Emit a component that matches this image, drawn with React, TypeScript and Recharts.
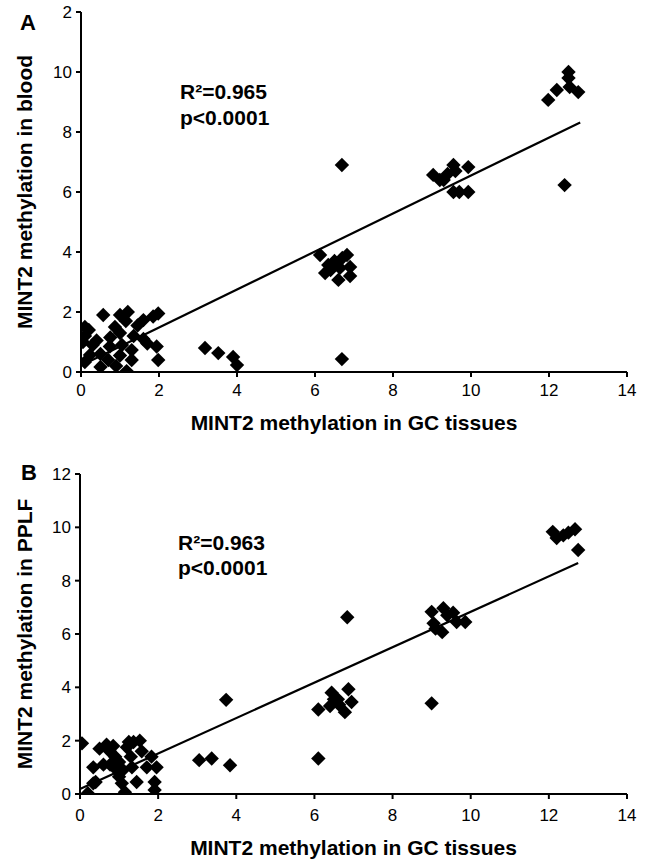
import React from 'react';
import { ScatterChart, Scatter, XAxis, YAxis, Label, ReferenceLine } from 'recharts';

// Panel A: GC tissue (x) vs blood (y)
const gcTissueA = [0.1, 0.2, 0.57, 1.0, 1.2, 1.6, 1.98, 1.85, 1.94, 1.98, 0.1, 0.5, 1.17, 1.3, 1.0, 1.6, 1.7, 0.1, 0.4, 0.75, 1.0, 1.35, 0.87, 0.74, 1.05, 1.3, 0.23, 0.7, 1.15, 0.5, 0.05, 0.3, 1.45, 0.9,
  3.18, 3.52, 3.9, 4.0,
  6.13, 6.34, 6.26, 6.6, 6.82, 6.9, 6.9, 6.64, 6.5, 6.7, 6.4, 6.69, 6.69,
  9.03, 9.2, 9.55, 9.4, 9.93, 9.6, 9.55, 9.7, 9.93, 9.3, 12.4,
  11.98, 12.2, 12.5, 12.5, 12.53, 12.75];
const bloodA = [1.5, 1.4, 1.9, 1.9, 2.0, 1.73, 1.95, 1.85, 0.85, 0.4, 0.33, 0.17, 0.03, 0.4, 0.55, 1.1, 0.95, 1.2, 1.05, 1.15, 1.3, 1.2, 1.5, 0.85, 0.9, 0.73, 0.57, 0.4, 1.7, 0.6, 1.0, 0.9, 1.55, 0.2,
  0.8, 0.63, 0.5, 0.23,
  3.9, 3.57, 3.3, 3.07, 3.9, 3.5, 3.2, 3.47, 3.7, 3.8, 3.4, 0.43, 6.9,
  6.57, 6.4, 6.9, 6.6, 6.83, 6.7, 6.0, 6.0, 6.0, 6.4, 6.23,
  9.07, 9.4, 10.0, 9.8, 9.5, 9.33];
const trendA = [{ x: 0, y: 0.22 }, { x: 12.8, y: 8.32 }];

// Panel B: GC tissue (x) vs PPLF (y)
const gcTissueB = [0.05, 0.2, 0.34, 0.4, 0.34, 0.5, 0.68, 0.76, 0.85, 0.6, 0.77, 0.9, 0.94, 1.0, 1.07, 1.15, 1.2, 1.25, 1.37, 1.33, 1.45, 1.53, 1.58, 1.71, 1.83, 1.96, 1.91, 1.91, 1.0, 1.1, 1.3,
  3.05, 3.37, 3.84, 3.74,
  6.1, 6.1, 6.44, 6.87, 6.4, 6.6, 6.78, 6.95, 6.63, 6.5, 9.0, 6.84,
  9.0, 9.3, 9.55, 9.64, 9.86, 9.05, 9.27, 9.1, 9.4,
  12.1, 12.37, 12.67, 12.2, 12.5, 12.75];
const pplfB = [1.9, 0.03, 0.4, 0.45, 1.0, 1.7, 1.85, 1.6, 1.8, 1.1, 1.1, 1.4, 0.9, 0.65, 0.4, 0.07, 1.75, 1.95, 1.95, 1.0, 0.45, 2.0, 1.6, 1.0, 1.4, 1.0, 0.45, 0.15, 1.2, 0.9, 1.4,
  1.27, 1.33, 1.08, 3.53,
  3.17, 1.33, 3.8, 3.93, 3.3, 3.55, 3.07, 3.45, 3.35, 3.55, 3.4, 6.63,
  6.83, 6.97, 6.8, 6.45, 6.45, 6.4, 6.07, 6.2, 6.7,
  9.83, 9.7, 9.93, 9.6, 9.8, 9.15];
const trendB = [{ x: 0, y: 0.19 }, { x: 12.75, y: 8.66 }];

const xTicks = [0, 2, 4, 6, 8, 10, 12, 14];
const yTicks = [0, 2, 4, 6, 8, 10, 12];

const xTitle = 'MINT2 methylation in GC tissues';
const yTitleA = 'MINT2 methylation in blood';
const yTitleB = 'MINT2 methylation in PPLF';

const dataA = gcTissueA.map((x, i) => ({ x, y: bloodA[i] }));
const dataB = gcTissueB.map((x, i) => ({ x, y: pplfB[i] }));

const FONT = '"Liberation Sans", Arial, Helvetica, sans-serif';

const Diamond = (props: any) => {
  const { cx, cy } = props;
  if (cx == null || cy == null) return null;
  const r = 7.2;
  return <path d={`M${cx},${cy - r}L${cx + r},${cy}L${cx},${cy + r}L${cx - r},${cy}Z`} fill="#000" />;
};

const tickStyle = { fontSize: 17, fill: '#000', fontFamily: FONT };
const axisLine = { stroke: '#000', strokeWidth: 2 };
const tickLine = { stroke: '#000', strokeWidth: 2 };

function Panel({ data, trend, yTitle, top, height, margin, xTickMargin, titleOffset, yFmt, yAxisWidth }: any) {
  return (
    <div style={{ position: 'absolute', left: 0, top, width: 646, height }}>
      <ScatterChart width={646} height={height} margin={margin}>
        <XAxis
          type="number"
          dataKey="x"
          domain={[0, 14]}
          ticks={xTicks}
          interval={0}
          tick={tickStyle}
          tickSize={5}
          tickMargin={xTickMargin}
          axisLine={axisLine}
          tickLine={tickLine}
          height={30}
          allowDataOverflow
        >
          <Label
            value={xTitle}
            position="bottom"
            offset={titleOffset}
            style={{ fontSize: 21, fontWeight: 'bold', fill: '#000', fontFamily: FONT }}
          />
        </XAxis>
        <YAxis
          type="number"
          dataKey="y"
          domain={[0, 12]}
          ticks={yTicks}
          interval={0}
          tick={tickStyle}
          tickSize={5}
          tickMargin={4}
          tickFormatter={yFmt}
          axisLine={axisLine}
          tickLine={tickLine}
          width={yAxisWidth}
          allowDataOverflow
        >
          <Label
            value={yTitle}
            angle={-90}
            position="insideLeft"
            offset={25}
            style={{ fontSize: 21, fontWeight: 'bold', fill: '#000', fontFamily: FONT, textAnchor: 'middle' }}
          />
        </YAxis>
        <ReferenceLine segment={trend} stroke="#000" strokeWidth={2.2} ifOverflow="visible" />
        <Scatter data={data} shape={<Diamond />} isAnimationActive={false} />
      </ScatterChart>
    </div>
  );
}

export default function App() {
  return (
    <div style={{ position: 'absolute', left: 0, top: 0, width: 646, height: 862, background: '#fff', fontFamily: FONT }}>
      <Panel
        data={dataA}
        trend={trendA}
        yTitle={yTitleA}
        top={0}
        height={442}
        margin={{ top: 12, right: 19, left: 0, bottom: 40 }}
        xTickMargin={7}
        titleOffset={13}
        yFmt={(v: number) => (v === 12 ? '2' : String(v))}
        yAxisWidth={81}
      />
      <Panel
        data={dataB}
        trend={trendB}
        yTitle={yTitleB}
        top={442}
        height={420}
        margin={{ top: 32, right: 19, left: 0, bottom: 38 }}
        xTickMargin={10}
        titleOffset={16}
        yFmt={(v: number) => String(v)}
        yAxisWidth={80}
      />
      <svg width={646} height={862} style={{ position: 'absolute', left: 0, top: 0, pointerEvents: 'none' }}>
        <text x={20} y={30} fontSize={22} fontWeight="bold" fontFamily={FONT} fill="#000">A</text>
        <text x={21} y={480} fontSize={22} fontWeight="bold" fontFamily={FONT} fill="#000">B</text>
        <text x={180} y={99} fontSize={21} fontWeight="bold" fontFamily={FONT} fill="#000">R²=0.965</text>
        <text x={180} y={125} fontSize={21} fontWeight="bold" fontFamily={FONT} fill="#000">p&lt;0.0001</text>
        <text x={178} y={550} fontSize={21} fontWeight="bold" fontFamily={FONT} fill="#000">R²=0.963</text>
        <text x={178} y={575} fontSize={21} fontWeight="bold" fontFamily={FONT} fill="#000">p&lt;0.0001</text>
      </svg>
    </div>
  );
}
